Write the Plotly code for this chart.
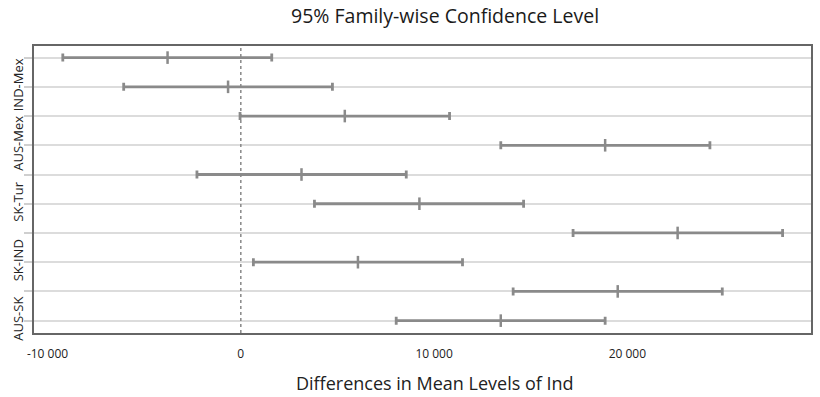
import plotly.graph_objects as go

# Comparisons, listed top to bottom (as in R's plot.TukeyHSD)
comparisons = ["Tur-Mex", "IND-Mex", "SK-Mex", "AUS-Mex", "IND-Tur",
               "SK-Tur", "AUS-Tur", "SK-IND", "AUS-IND", "AUS-SK"]
diff = [-3790, -660, 5380, 18850, 3140, 9240, 22600, 6060, 19500, 13450]
lwr = [-9210, -6060, -40, 13450, -2270, 3810, 17190, 650, 14090, 8040]
upr = [1600, 4740, 10800, 24270, 8560, 14630, 28030, 11470, 24910, 18850]
x_ticks = [-10000, 0, 10000, 20000]
x_tick_labels = ["-10 000", "0", "10 000", "20 000"]

n = len(comparisons)
rows = list(range(n, 0, -1))
# R only prints every other label (those that fit), starting from the bottom
shown = [c if (r % 2 == 1) else "" for c, r in zip(comparisons, rows)]

bar_col = "#8a8a8a"

fig = go.Figure()
fig.add_trace(go.Scatter(
    x=diff, y=rows, mode="markers",
    marker=dict(symbol="line-ns", size=9, line=dict(width=2.5, color=bar_col), color=bar_col),
    error_x=dict(type="data", symmetric=False,
                 array=[u - d for u, d in zip(upr, diff)],
                 arrayminus=[d - l for d, l in zip(diff, lwr)],
                 width=4, thickness=2.8, color=bar_col),
    showlegend=False, hoverinfo="skip",
))

fig.add_shape(type="line", xref="x", yref="paper", x0=0, x1=0, y0=0, y1=1,
              line=dict(color="#888888", width=1.5, dash="dot"), layer="above")

fig.add_annotation(text="Differences in Mean Levels of Ind", xref="paper", yref="paper",
                   x=0.516, y=-0.175, xanchor="center", yanchor="middle", showarrow=False,
                   font=dict(size=18, color="#222222"))

fig.update_layout(
    width=820, height=397,
    margin=dict(l=34, r=9, t=46, b=64, autoexpand=False),
    paper_bgcolor="white", plot_bgcolor="white",
    font=dict(family="Open Sans, sans-serif", color="#222222"),
    title=dict(text="95% Family-wise Confidence Level", x=0.529, xref="paper",
               xanchor="center", y=0.96, yanchor="middle",
               font=dict(size=19.5, color="#1a1a1a")),
)
fig.update_xaxes(
    range=[-10700, 29500], tickvals=x_ticks, ticktext=x_tick_labels,
    showgrid=False, zeroline=False, ticks="", automargin=False,
    ticklabelstandoff=9,
    showline=True, mirror=True, linecolor="#666666", linewidth=2,
    tickfont=dict(size=12, color="#222222"),
)
fig.update_yaxes(
    range=[0.577, 10.397], tickvals=rows, ticktext=shown, tickangle=-90,
    showgrid=True, gridcolor="#dcdcdc", gridwidth=2, zeroline=False,
    ticks="outside", ticklen=8, tickcolor="#cfcfcf", tickwidth=2, automargin=False,
    ticklabelstandoff=-4,
    showline=True, mirror=True, linecolor="#666666", linewidth=2,
    tickfont=dict(size=13, color="#222222"),
)

fig.write_html("out.html", config={"displayModeBar": False},
               post_script="document.body.style.margin='0';")
